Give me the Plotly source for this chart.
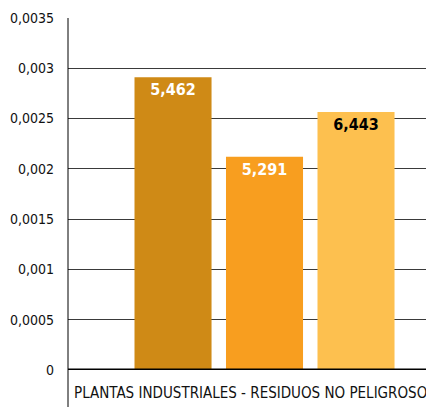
from plotly import graph_objects as go

# datos
categoria = ["PLANTAS INDUSTRIALES - RESIDUOS NO PELIGROSOS"]
valores = [0.00291, 0.00212, 0.002565]
etiquetas = ["5,462", "5,291", "6,443"]
colores = ["#CF8A16", "#F89E1F", "#FDC04F"]
color_texto = ["white", "white", "black"]

y_ticks = [0, 0.0005, 0.001, 0.0015, 0.002, 0.0025, 0.003, 0.0035]
y_ticktext = ["0", "0,0005", "0,001", "0,0015", "0,002", "0,0025", "0,003", "0,0035"]

fuente = "DejaVu Sans Condensed, Roboto Condensed, Liberation Sans Narrow, sans-serif"

fig = go.Figure()
for v, lab, col, tc in zip(valores, etiquetas, colores, color_texto):
    fig.add_trace(
        go.Bar(
            x=categoria,
            y=[v],
            text=[lab],
            textposition="inside",
            insidetextanchor="end",
            textangle=0,
            textfont=dict(family=fuente, size=16, color=tc, weight="bold"),
            marker_color=col,
            marker_line_width=0,
            showlegend=False,
            hoverinfo="skip",
        )
    )

# la pagina deja 8px de margen al body, se compensa en los margenes
fig.update_layout(
    width=434,
    height=407,
    margin=dict(l=60, r=0, t=10, b=45),
    paper_bgcolor="white",
    plot_bgcolor="white",
    barmode="group",
    bargap=0.3016,
    bargroupgap=0.158,
    font=dict(family=fuente, color="#111111"),
    xaxis=dict(
        type="category",
        range=[-0.5, 0.4516],
        showgrid=False,
        showline=False,
        ticks="",
        showticklabels=False,
        automargin=False,
    ),
    yaxis=dict(
        range=[0, 0.0035],
        tickvals=y_ticks,
        ticktext=y_ticktext,
        showgrid=True,
        gridcolor="#3a3a3a",
        gridwidth=1,
        zeroline=False,
        showline=False,
        ticks="",
        automargin=False,
        ticklabelstandoff=13,
        tickfont=dict(size=14, color="#111111"),
    ),
    shapes=[
        # eje vertical que baja hasta el borde
        dict(type="line", xref="paper", yref="paper", x0=0, x1=0, y0=-0.2, y1=1,
             line=dict(color="black", width=1)),
        # linea del cero gruesa
        dict(type="line", xref="paper", yref="y", x0=0, x1=1, y0=0, y1=0,
             line=dict(color="black", width=3)),
    ],
    annotations=[
        # nombre de la categoria alineado a la izquierda bajo el eje
        dict(text=categoria[0], xref="paper", yref="y", x=0.0107, y=0,
             xanchor="left", yanchor="top", yshift=-12, showarrow=False,
             font=dict(family=fuente, size=15, color="#111111")),
    ],
)

fig.write_html("out.html")
